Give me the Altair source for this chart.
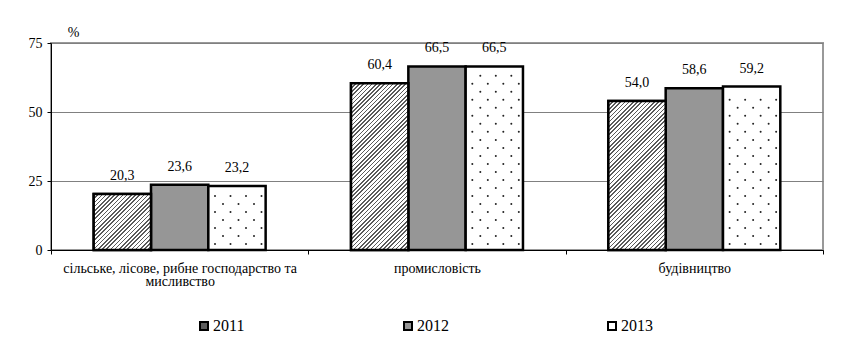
import altair as alt
import pandas as pd

# --- data -------------------------------------------------------------
categories = [
    "сільське, лісове, рибне господарство та\nмисливство",
    "промисловість",
    "будівництво",
]
years = ["2011", "2012", "2013"]
values_2011 = [20.3, 60.4, 54.0]
values_2012 = [23.6, 66.5, 58.6]
values_2013 = [23.2, 66.5, 59.2]
y_ticks = [0, 25, 50, 75]

# --- layout -----------------------------------------------------------
PLOT_W, PLOT_H = 772, 207
Y_MAX = 75
GROUP_PAD = 0.745            # outer padding of the bar group inside a category
FONT = "Liberation Serif"
BAND = PLOT_W / len(categories)
BAR_W = BAND / (len(years) + 2 * GROUP_PAD)

rows = []
for yi, (vals, yr) in enumerate(zip([values_2011, values_2012, values_2013], years)):
    for ci, (cat, v) in enumerate(zip(categories, vals)):
        rows.append({"cat": cat, "year": yr, "value": v, "ci": ci, "yi": yi})
df = pd.DataFrame(rows)

x_axis = alt.Axis(title=None, labelAngle=0, tickBand="extent",
                  labelExpr="split(datum.label, '\\n')", labelLimit=0,
                  labelFont=FONT, labelFontSize=14, labelColor="black",
                  labelLineHeight=13.5, labelPadding=7,
                  domainColor="black", tickColor="black", tickSize=4, grid=False)
x_scale = alt.Scale(domain=categories, paddingInner=0, paddingOuter=0)
x_enc = alt.X("cat:N", sort=categories, scale=x_scale, axis=x_axis)
xo_enc = alt.XOffset("year:N", sort=years,
                     scale=alt.Scale(domain=years, paddingInner=0, paddingOuter=GROUP_PAD))
y_enc = alt.Y("value:Q",
              scale=alt.Scale(domain=[0, Y_MAX], nice=False),
              axis=alt.Axis(values=y_ticks, title="%", titleAngle=0,
                            titleX=22, titleY=-11, titleAlign="center",
                            titleBaseline="middle",
                            titleFont=FONT, titleFontSize=14, titleFontWeight="normal",
                            titleColor="black",
                            labelFont=FONT, labelFontSize=14, labelColor="black",
                            labelPadding=5, domainColor="black", tickColor="black",
                            tickSize=4, grid=True, gridColor="#808080", gridWidth=1))

base = alt.Chart(df)

# plain bars carry the legend (2012 grey, 2013 white)
bars = base.mark_bar(stroke="black", strokeWidth=2.5).encode(
    x=x_enc, xOffset=xo_enc, y=y_enc,
    color=alt.Color("year:N", sort=years,
                    scale=alt.Scale(domain=years, range=["#5e5e5e", "#969696", "#ffffff"]),
                    legend=alt.Legend(title=None, orient="none", direction="horizontal",
                                      legendX=145, legendY=275, padding=0,
                                      columnPadding=155,
                                      symbolType="square", symbolSize=64,
                                      symbolStrokeColor="black", symbolStrokeWidth=2,
                                      symbolOpacity=1,
                                      labelFont=FONT, labelFontSize=16,
                                      labelColor="black", labelOffset=1)),
)


def hatch(h_px, w_px, period=4.2, duty=0.38, ink="#5a5a5a"):
    """Diagonal '/' hatching as a hard-stop linear gradient at 45 degrees."""
    k = (w_px + h_px) / (w_px ** 2 + h_px ** 2)
    n = (w_px + h_px) / period
    stops = []
    i = 0
    while i < n:
        a = min(i / n, 1.0)
        b = min((i + duty) / n, 1.0)
        c = min((i + 1) / n, 1.0)
        stops += [{"offset": a, "color": ink}, {"offset": b, "color": ink},
                  {"offset": b, "color": "#ffffff"}, {"offset": c, "color": "#ffffff"}]
        i += 1
    return {"gradient": "linear", "x1": 0, "y1": 0,
            "x2": w_px * k, "y2": h_px * k, "stops": stops}


hatched = []
for cat, v in zip(categories, values_2011):
    g = hatch(v / Y_MAX * PLOT_H, BAR_W)
    hatched.append(
        base.transform_filter((alt.datum.year == "2011") & (alt.datum.cat == cat))
        .mark_bar(fill=g, stroke="black", strokeWidth=2.5)
        .encode(x=x_enc, xOffset=xo_enc, y=y_enc)
    )

labels = base.transform_calculate(
    lbl="replace(format(datum.value, '.1f'), '.', ',')"
).mark_text(font=FONT, fontSize=14, color="black", baseline="alphabetic", dy=-14).encode(
    x=x_enc, xOffset=xo_enc, y=y_enc, text="lbl:N"
)

# dotted fill of the 2013 bars: staggered rows of small dots,
# placed on a continuous copy of the category axis (one unit per category)
DOT_STEP = 2.9     # value units between dot rows
DOT_START = 2.2
bar_frac = BAR_W / BAND
px_unit = 1 / BAND
dots = (
    base.transform_filter(alt.datum.year == "2013")
    .transform_calculate(n=f"floor((datum.value - {DOT_START} - 2.0) / {DOT_STEP}) + 1")
    .transform_calculate(r="sequence(0, datum.n)")
    .transform_flatten(["r"])
    .transform_calculate(
        ry=f"{DOT_START} + datum.r * {DOT_STEP}",
        cols="datum.r % 2 == 0 ? [-22, -6.5, 9, 24.5] : [-14, 1.5, 17]",
    )
    .transform_flatten(["cols"])
    .transform_calculate(
        cx=f"datum.ci + 0.5 + (datum.yi - 1) * {bar_frac} + datum.cols * {px_unit}"
    )
    .mark_circle(size=4, color="#222222", opacity=1)
    .encode(x=alt.X("cx:Q", scale=alt.Scale(domain=[0, len(categories)], nice=False, zero=False),
                    axis=None),
            y=alt.Y("ry:Q", scale=alt.Scale(domain=[0, Y_MAX], nice=False)))
)

bar_group = alt.layer(bars, *hatched, labels)
chart = alt.layer(bar_group, dots).resolve_scale(x="independent").properties(
    width=PLOT_W, height=PLOT_H,
    padding={"left": 51, "top": 43, "right": 21, "bottom": 98},
    autosize="none",
    background="white",
).configure_view(stroke="#999999", strokeWidth=2)

chart.save("out.html", embed_options={"renderer": "svg", "actions": False})
